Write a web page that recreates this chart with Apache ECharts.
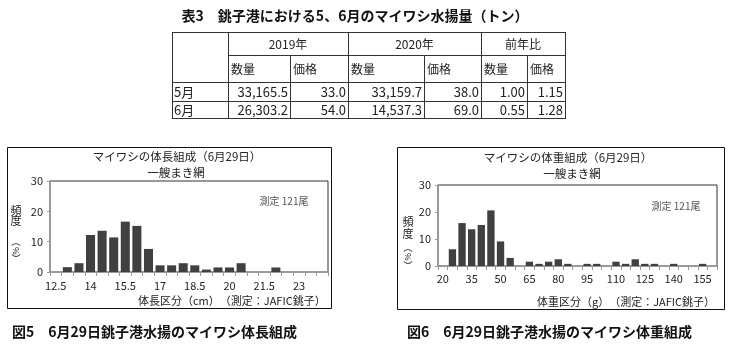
<!DOCTYPE html>
<html><head><meta charset="utf-8">
<script src="https://cdn.jsdelivr.net/npm/echarts@6/dist/echarts.min.js"></script>
<style>html,body{margin:0;padding:0;background:#fff;}#c{width:739px;height:348px;}</style>
</head><body><div id="c"></div>
<script>
// ---- Table data ----
const tableTitle = '表3　銚子港における5、6月のマイワシ水揚量（トン）';
const tableYears = ['2019年', '2020年', '前年比'];
const tableSubHeaders = ['数量', '価格'];
const months = ['5月', '6月'];
const qty2019 = [33165.5, 26303.2];
const price2019 = [33.0, 54.0];
const qty2020 = [33159.7, 14537.3];
const price2020 = [38.0, 69.0];
const ratioQty = [1.00, 0.55];
const ratioPrice = [1.15, 1.28];

// ---- Length composition (cm classes, %) ----
const lengthClasses = ['12.5','13','13.5','14','14.5','15','15.5','16','16.5','17','17.5','18','18.5','19','19.5','20','20.5','21','21.5','22','22.5','23','23.5','24'];
const lengthFreq = [0, 1.6, 2.9, 12.2, 13.6, 11.4, 16.6, 15.2, 7.6, 2.2, 2.2, 2.9, 2.2, 0.8, 1.5, 1.5, 2.9, 0, 0, 1.5, 0, 0, 0, 0];

// ---- Weight composition (g classes, %) ----
const weightClasses = ['20','25','30','35','40','45','50','55','60','65','70','75','80','85','90','95','100','105','110','115','120','125','130','135','140','145','150','155','160'];
const weightFreq = [0, 6.2, 15.9, 13.6, 15.2, 20.6, 9.1, 3.0, 0, 1.6, 0.8, 1.6, 2.5, 0.8, 0, 0.8, 0.8, 0, 1.6, 0.8, 2.5, 0.8, 0.8, 0, 0.8, 0, 0, 0.8, 0];

const yTicks = [0, 10, 20, 30];
const lengthTitle = ['マイワシの体長組成（6月29日）', '一艘まき網'];
const weightTitle = ['マイワシの体重組成（6月29日）', '一艘まき網'];
const lengthXName = '体長区分（cm）　（測定：JAFIC銚子）';
const weightXName = '体重区分（g）　（測定：JAFIC銚子）';
const sampleNote = '測定 121尾';
const captions = ['図5　6月29日銚子港水揚のマイワシ体長組成', '図6　6月29日銚子港水揚のマイワシ体重組成'];

const FF = "'Noto Sans CJK JP', sans-serif";
const TXT = '#222';

function fmt1(n){ return n.toLocaleString('en-US',{minimumFractionDigits:1, maximumFractionDigits:1}); }

function text(x, y, s, opt) {
  opt = opt || {};
  return {
    type: 'text', z: 10, x: x, y: y, rotation: opt.rotation || 0,
    style: {
      text: s, x: 0, y: 0,
      font: (opt.weight || 'normal') + ' ' + (opt.size || 12) + 'px ' + FF,
      fill: opt.color || TXT,
      align: opt.align || 'left', verticalAlign: 'middle',
      textAlign: opt.align || 'left', textVerticalAlign: 'middle'
    }
  };
}
function line(x1, y1, x2, y2, color, w) {
  return { type: 'line', z: 10, shape: {x1:x1, y1:y1, x2:x2, y2:y2}, style: {stroke: color || '#333', lineWidth: w || 1} };
}

const g = [];
// ---- Table ----
g.push(text(355, 16, tableTitle, {size: 14, weight: 'bold', align: 'center', color: '#111'}));
const cx = [172, 228, 290, 348, 424, 481, 527, 565];
const ry = [32, 55, 82, 101, 118];
const tc = '#333';
// horizontal lines
g.push(line(cx[0], ry[0]+.5, cx[7], ry[0]+.5, tc));
g.push(line(cx[1], ry[1]+.5, cx[7], ry[1]+.5, tc));
g.push(line(cx[0], ry[2]+.5, cx[7], ry[2]+.5, tc));
g.push(line(cx[0], ry[3]+.5, cx[7], ry[3]+.5, tc));
g.push(line(cx[0], ry[4]+.5, cx[7], ry[4]+.5, tc));
// vertical lines
[0,1,3,5,7].forEach(i => g.push(line(cx[i]+.5, ry[0], cx[i]+.5, ry[4]+1, tc)));
[2,4,6].forEach(i => g.push(line(cx[i]+.5, ry[1], cx[i]+.5, ry[4]+1, tc)));
// headers
const yearSpans = [[1,3],[3,5],[5,7]];
tableYears.forEach((s, i) => g.push(text((cx[yearSpans[i][0]] + cx[yearSpans[i][1]]) / 2, 44, s, {size: 12, align: 'center'})));
for (let i = 1; i < 7; i++) g.push(text(cx[i] + 3, 69, tableSubHeaders[(i - 1) % 2], {size: 12}));
const rowsY = [92, 110];
months.forEach((m, r) => {
  g.push(text(cx[0] + 2, rowsY[r], m, {size: 13}));
  const vals = [fmt1(qty2019[r]), price2019[r].toFixed(1), fmt1(qty2020[r]), price2020[r].toFixed(1), ratioQty[r].toFixed(2), ratioPrice[r].toFixed(2)];
  vals.forEach((v, c) => g.push(text(cx[c + 2] - 2, rowsY[r], v, {size: 13, align: 'right'})));
});

// ---- Chart boxes ----
g.push({type:'rect', z: 1, shape:{x:7.5, y:147.5, width:324, height:161}, style:{fill:'none', stroke:'#111', lineWidth:1}});
g.push({type:'rect', z: 1, shape:{x:397.5, y:147.5, width:327, height:162}, style:{fill:'none', stroke:'#111', lineWidth:1}});

// Chart titles
g.push(text(177, 157, lengthTitle[0], {size: 11.5, align: 'center'}));
g.push(text(176, 173, lengthTitle[1], {size: 11.5, align: 'center'}));
g.push(text(568, 158, weightTitle[0], {size: 11.5, align: 'center'}));
g.push(text(572, 174, weightTitle[1], {size: 11.5, align: 'center'}));
// notes
g.push(text(284, 201, sampleNote, {size: 10, align: 'center', color: '#555'}));
g.push(text(676, 206, sampleNote, {size: 10, align: 'center', color: '#555'}));
// x names
g.push(text(138, 301, lengthXName, {size: 11}));
g.push(text(537, 302, weightXName, {size: 11}));
// y names (vertical)
function yName(x, ys) {
  g.push(text(x, ys[0], '頻', {size: 11, align: 'center'}));
  g.push(text(x, ys[1], '度', {size: 11, align: 'center'}));
  g.push(text(x, ys[2], '︵', {size: 9, align: 'center'}));
  g.push(text(x, ys[3], '%', {size: 8, align: 'center', rotation: -Math.PI / 2}));
  g.push(text(x, ys[4], '︶', {size: 9, align: 'center'}));
}
yName(16, [211, 221, 242, 251, 259]);
yName(408, [222, 234, 248, 257, 266]);
// captions
g.push(text(12, 332, captions[0], {size: 14, weight: 'bold', color: '#111'}));
g.push(text(407, 332, captions[1], {size: 14, weight: 'bold', color: '#111'}));

function xAxisCfg(idx, data, margin) {
  return {
    type: 'category', gridIndex: idx, data: data,
    axisLine: {lineStyle: {color: '#9a9a9a', width: 1.5}},
    axisTick: {show: true, interval: 0, length: 4, lineStyle: {color: '#9a9a9a'}},
    axisLabel: {interval: 2, fontSize: 11, color: TXT, fontFamily: FF, margin: margin},
    splitLine: {show: false}
  };
}
function yAxisCfg(idx) {
  return {
    type: 'value', gridIndex: idx, min: yTicks[0], max: yTicks[yTicks.length - 1], interval: 10,
    axisLine: {show: true, lineStyle: {color: '#9a9a9a', width: 1.5}},
    axisTick: {show: true, length: 3, lineStyle: {color: '#9a9a9a'}},
    axisLabel: {fontSize: 11, color: TXT, fontFamily: FF, margin: 7},
    splitLine: {show: false}
  };
}

const chart = echarts.init(document.getElementById('c'), null, {renderer: 'canvas'});
chart.setOption({
  animation: false,
  backgroundColor: '#fff',
  grid: [
    {left: 50, top: 181, width: 278, height: 91, show: true, borderColor: '#333', borderWidth: 1, backgroundColor: 'transparent'},
    {left: 438, top: 185, width: 279, height: 81, show: true, borderColor: '#333', borderWidth: 1, backgroundColor: 'transparent'}
  ],
  xAxis: [xAxisCfg(0, lengthClasses, 8), xAxisCfg(1, weightClasses, 7)],
  yAxis: [yAxisCfg(0), yAxisCfg(1)],
  series: [
    {type: 'bar', xAxisIndex: 0, yAxisIndex: 0, data: lengthFreq, barCategoryGap: '22%', itemStyle: {color: '#404040'}},
    {type: 'bar', xAxisIndex: 1, yAxisIndex: 1, data: weightFreq, barCategoryGap: '24%', itemStyle: {color: '#404040'}}
  ],
  graphic: g
});
</script>
</body></html>
